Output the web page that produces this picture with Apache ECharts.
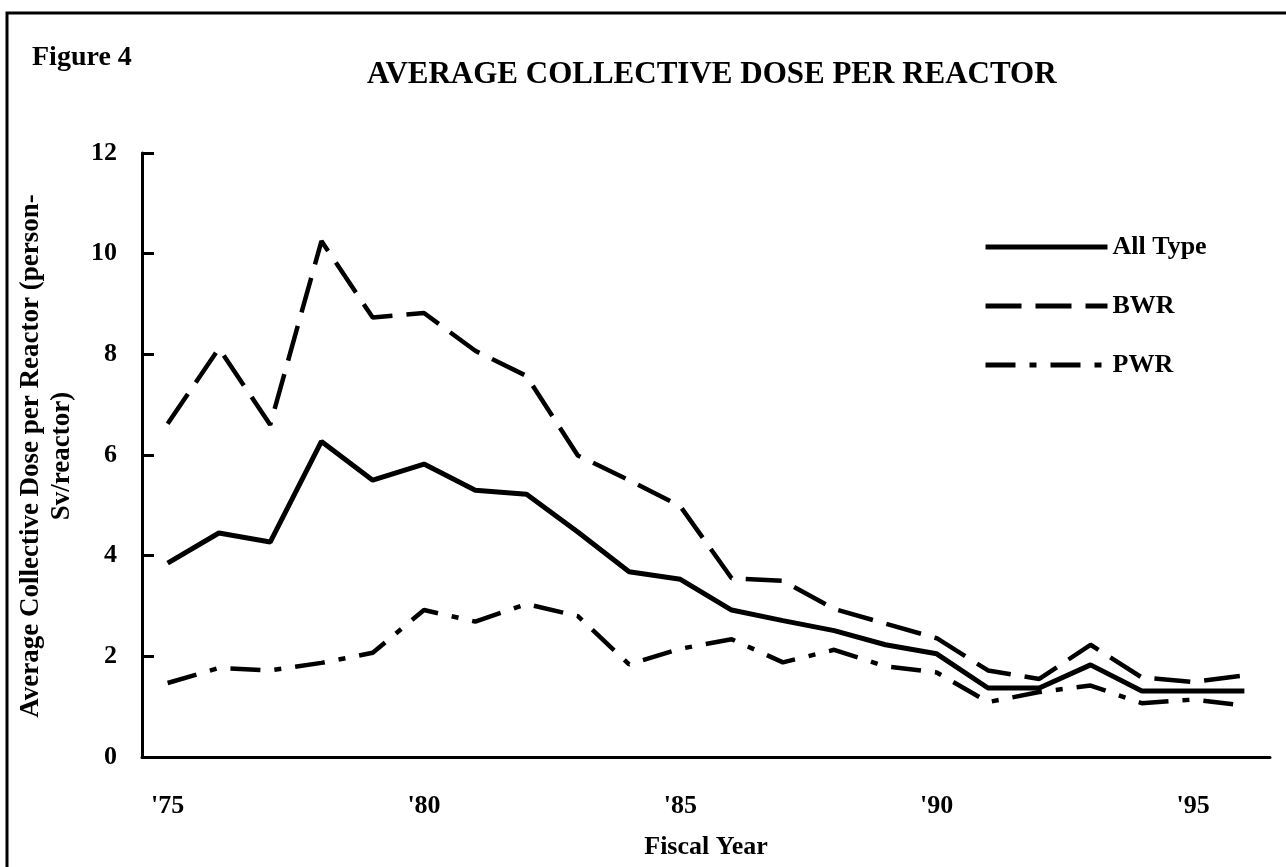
<!DOCTYPE html>
<html lang="en">
<head>
<meta charset="UTF-8">
<title>Average Collective Dose per Reactor</title>
<style type="text/css">
    html, body {
        margin: 0;
        padding: 0;
        background-color: #fff;
    }
    #charts {
        width: 1286px;
        height: 867px;
    }
</style>
</head>
<body>
<div id="charts"></div>
</body>
<script src="https://cdn.jsdelivr.net/npm/echarts@6/dist/echarts.min.js"></script>
<script type="text/javascript">
// fiscal years '75 - '96
var years = ["'75", "'76", "'77", "'78", "'79", "'80", "'81", "'82", "'83", "'84", "'85",
             "'86", "'87", "'88", "'89", "'90", "'91", "'92", "'93", "'94", "'95", "'96"];
var allType = [3.85, 4.45, 4.27, 6.27, 5.5, 5.82, 5.3, 5.22, 4.47, 3.68, 3.53,
               2.92, 2.71, 2.51, 2.23, 2.05, 1.37, 1.37, 1.83, 1.31, 1.31, 1.31];
var bwr = [6.62, 8.12, 6.6, 10.25, 8.73, 8.82, 8.07, 7.57, 5.99, 5.5, 4.98,
           3.55, 3.5, 2.94, 2.65, 2.36, 1.72, 1.55, 2.23, 1.58, 1.49, 1.62];
var pwr = [1.47, 1.77, 1.72, 1.87, 2.07, 2.92, 2.69, 3.04, 2.8, 1.84, 2.15,
           2.34, 1.88, 2.13, 1.8, 1.68, 1.09, 1.29, 1.42, 1.07, 1.14, 1.02];
var yTicks = [0, 2, 4, 6, 8, 10, 12];

var font = '"Liberation Serif", "Times New Roman", serif';

function initChart(){
    var myChart = echarts.init(document.getElementById('charts'));
    var option = {
        backgroundColor: '#fff',
        animation: false,
        title: {
            text: 'AVERAGE COLLECTIVE DOSE PER REACTOR',
            left: 362,
            top: 54,
            textStyle: {
                fontFamily: font,
                fontWeight: 'bold',
                fontSize: 31,
                color: '#000'
            }
        },
        legend: {
            orient: 'vertical',
            left: 978,
            top: 227,
            itemWidth: 122,
            itemHeight: 14,
            itemGap: 29,
            itemStyle: {opacity: 0},
            lineStyle: {width: 5},
            textStyle: {
                fontFamily: font,
                fontWeight: 'bold',
                fontSize: 26,
                lineHeight: 30,
                color: '#000'
            },
            data: ['All Type', 'BWR', 'PWR']
        },
        grid: {
            left: 142,
            right: 16,
            top: 153,
            bottom: 110
        },
        xAxis: {
            type: 'category',
            data: years,
            boundaryGap: true,
            name: 'Fiscal Year',
            nameLocation: 'middle',
            nameGap: 77,
            nameTextStyle: {
                fontFamily: font,
                fontWeight: 'bold',
                fontSize: 26,
                color: '#000'
            },
            axisLine: {lineStyle: {color: '#000', width: 3}},
            axisTick: {inside: true, length: 9, interval: 0, lineStyle: {color: '#000', width: 2}},
            axisLabel: {
                interval: 4,
                margin: 36,
                fontFamily: font,
                fontWeight: 'bold',
                fontSize: 26,
                color: '#000'
            },
            splitLine: {show: false}
        },
        yAxis: {
            type: 'value',
            min: yTicks[0],
            max: yTicks[yTicks.length - 1],
            interval: 2,
            axisLine: {show: true, lineStyle: {color: '#000', width: 3}},
            axisTick: {show: true, inside: true, length: 12, lineStyle: {color: '#000', width: 3}},
            axisLabel: {
                margin: 25,
                fontFamily: font,
                fontWeight: 'bold',
                fontSize: 26,
                color: '#000'
            },
            splitLine: {show: false}
        },
        graphic: [
            {
                // frame lines of the figure
                type: 'polyline',
                shape: {points: [[7, 867], [7, 13], [1286, 13]]},
                style: {stroke: '#000', lineWidth: 3, fill: null}
            },
            {
                type: 'text',
                left: 32,
                top: 44,
                style: {
                    text: 'Figure 4',
                    font: 'bold 28px ' + font,
                    fill: '#000'
                }
            },
            {
                type: 'text',
                x: 47,
                y: 456,
                rotation: Math.PI / 2,
                style: {
                    text: 'Average Collective Dose per Reactor (person-\nSv/reactor)',
                    font: 'bold 27px ' + font,
                    lineHeight: 31,
                    fill: '#000',
                    align: 'center',
                    verticalAlign: 'middle'
                }
            }
        ],
        series: [
            {
                name: 'All Type',
                type: 'line',
                data: allType,
                symbol: 'none',
                lineStyle: {color: '#000', width: 5, type: 'solid'},
                itemStyle: {color: '#000'}
            },
            {
                name: 'BWR',
                type: 'line',
                data: bwr,
                symbol: 'none',
                lineStyle: {color: '#000', width: 4.5, type: [36, 14]},
                itemStyle: {color: '#000'}
            },
            {
                name: 'PWR',
                type: 'line',
                data: pwr,
                symbol: 'none',
                lineStyle: {color: '#000', width: 4.5, type: [30, 14, 7, 14]},
                itemStyle: {color: '#000'}
            }
        ]
    };
    myChart.setOption(option);
}
initChart();
</script>
</html>
